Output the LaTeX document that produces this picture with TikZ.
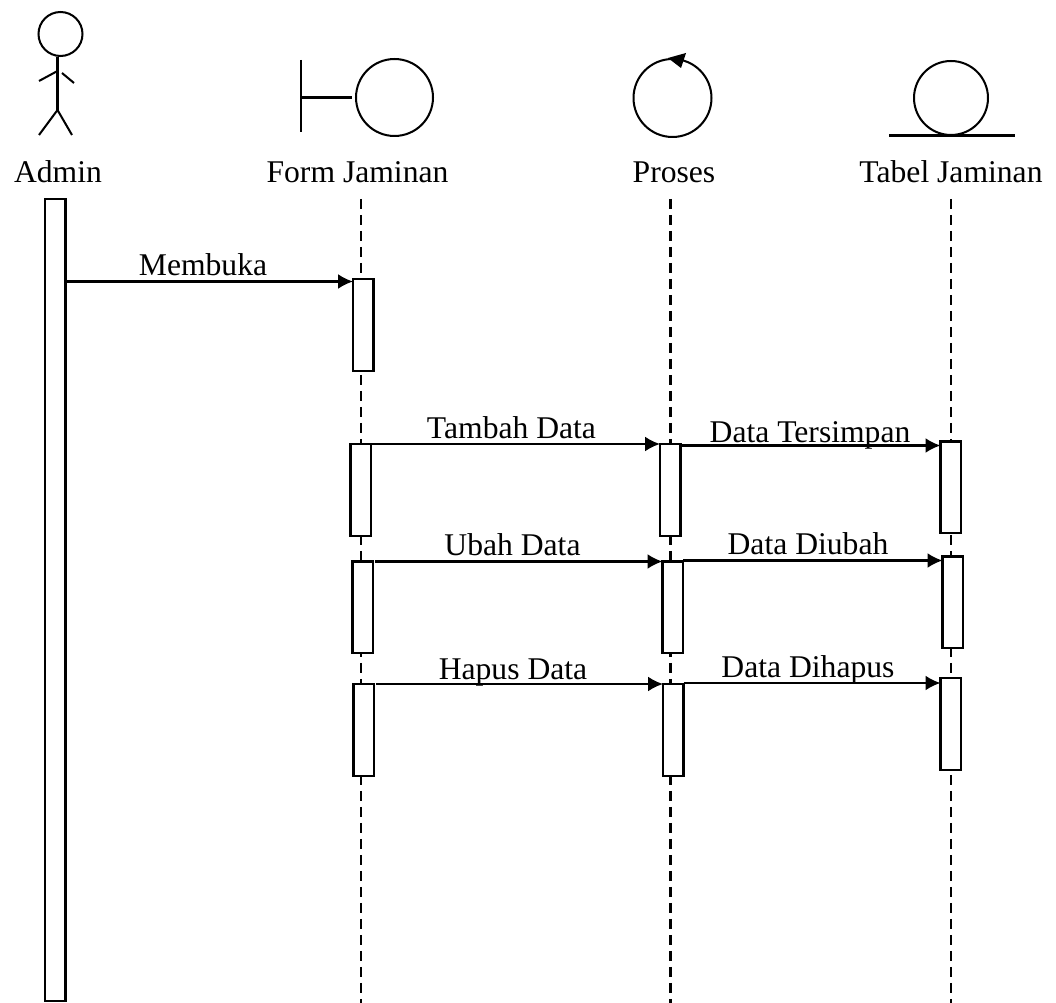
\documentclass[tikz,border=0pt]{standalone}
\usepackage{fontspec}
\setmainfont{Liberation Serif}
\usetikzlibrary{arrows.meta,positioning,calc}

\begin{document}
\begin{tikzpicture}[x=0.02cm,y=-0.02cm,font=\fontsize{18}{21}\selectfont,line width=1.15pt,
  lbl/.style={anchor=base,inner sep=0pt},
  act/.style={draw,fill=white,anchor=north west,inner sep=0pt,outer sep=0pt,minimum width=0.41cm,minimum height=1.84cm},
  life/.style={dashed,dash pattern=on 0.2cm off 0.12cm},
  msg/.style={-{Latex[length=0.3cm,width=0.3cm]},line width=1.3pt},
  figure/.style={circle,draw,inner sep=0pt}]
  \useasboundingbox (0,0) rectangle (1056,1003);
  % lifelines
  \coordinate (frmTop) at (361,199);
  \coordinate (frmEnd) at (361,1003);
  \coordinate (prsTop) at (670.5,199);
  \coordinate (prsEnd) at (670.5,1003);
  \coordinate (tblTop) at (951,199);
  \coordinate (tblEnd) at (951,1003);
  \draw[life] (frmTop)--(frmEnd);
  \draw[life] (prsTop)--(prsEnd);
  \draw[life] (tblTop)--(tblEnd);
  % actor
  \node[figure,minimum size=0.88cm] (head) at (60.5,34) {};
  \coordinate (hip) at (57.5,110);
  \coordinate (armL) at (39,81);
  \coordinate (armLin) at (57.5,71);
  \coordinate (armRin) at (62,73);
  \coordinate (armR) at (74,83);
  \coordinate (legL) at (39,135);
  \coordinate (legR) at (72,135);
  \draw (head.south -| hip)--(hip);
  \draw (armL)--(armLin);
  \draw (armRin)--(armR);
  \draw (legL)--(hip)--(legR);
  % boundary, control, entity
  \node[figure,minimum size=1.54cm] (bnd) at (394.5,97.5) {};
  \coordinate (bndTop) at (301,60);
  \coordinate (bndBot) at (301,132);
  \coordinate (bndMid) at (301,97.5);
  \coordinate (bndEnd) at (352,97.5);
  \draw (bndTop)--(bndBot);
  \draw (bndMid)--(bndEnd);
  \node[figure,minimum size=1.56cm] (ctl) at (672.5,98) {};
  \fill (668,58)--(686,53)--(681,68)--cycle;
  \node[figure,minimum size=1.48cm] (ent) at (951,98) {};
  \coordinate (entL) at (889,135.5);
  \coordinate (entR) at (1015,135.5);
  \draw (entL)--(entR);
  % names
  \node[lbl] (admName) at (58,183) {Admin};
  \node[lbl] (frmName) at (357.5,183) {Form Jaminan};
  \node[lbl] (prsName) at (674,183) {Proses};
  \node[lbl] (tblName) at (951,183) {Tabel Jaminan};
  % activations
  \node[act,minimum width=0.41cm,minimum height=16.04cm] (adm) at (45,199) {};
  \node[act] (frm1) at (353,279) {};
  \node[act] (frm2) at (350.5,444) {};
  \node[act] (frm3) at (352.5,561.5) {};
  \node[act] (frm4) at (353.5,684) {};
  \node[act] (prs2) at (660,444) {};
  \node[act] (prs3) at (662.5,561.5) {};
  \node[act] (prs4) at (663,684) {};
  \node[act] (tbl2) at (940.5,441.5) {};
  \node[act] (tbl3) at (942.5,556.5) {};
  \node[act] (tbl4) at (940.5,678) {};
  % messages
  \draw[msg] (adm.east |- 0,281.5)--(frm1.west |- 0,281.5);
  \draw[msg] (frm2.north east)--(prs2.north west);
  \draw[msg] ($(frm3.north east)+(2,0)$)--(prs3.north west);
  \draw[msg] ($(frm4.north east)+(2,0)$)--(prs4.north west);
  \draw[msg] (prs2.east |- 0,445.5)--(tbl2.west |- 0,445.5);
  \draw[msg] (prs3.east |- 0,560.5)--(tbl3.west |- 0,560.5);
  \draw[msg] (prs4.east |- 0,683)--(tbl4.west |- 0,683);
  % message labels
  \node[lbl] (buka) at (203,275.5) {Membuka};
  \node[lbl] (tambah) at (511.5,438.5) {Tambah Data};
  \node[lbl] (ubah) at (512.5,556) {Ubah Data};
  \node[lbl] (hapus) at (513,680) {Hapus Data};
  \node[lbl] (simpan) at (810,443) {Data Tersimpan};
  \node[lbl] (diubah) at (808,555) {Data Diubah};
  \node[lbl] (dihapus) at (808,677.5) {Data Dihapus};
\end{tikzpicture}
\end{document}
